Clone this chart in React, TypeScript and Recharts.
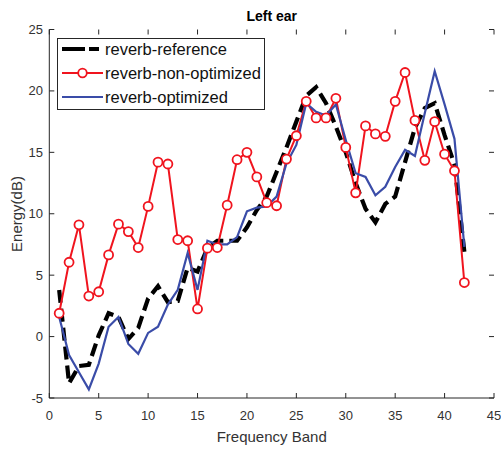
import React from 'react';
import { LineChart, Line, XAxis, YAxis, Legend } from 'recharts';

const bands = [1,2,3,4,5,6,7,8,9,10,11,12,13,14,15,16,17,18,19,20,21,22,23,24,25,26,27,28,29,30,31,32,33,34,35,36,37,38,39,40,41,42];
const reference = [3.8,-3.8,-2.4,-2.3,0.1,1.9,1.6,-0.2,0.7,3.1,4.1,2.8,2.9,5.6,5.3,7.2,7.8,7.8,7.8,8.9,10.3,11.4,13.4,15.4,17.5,19.6,20.3,19.0,17.1,15.0,12.5,10.4,9.3,10.8,11.4,14.2,17.0,18.6,19.0,16.4,14.0,6.9];
const nonOptimized = [1.9,6.05,9.1,3.3,3.65,6.65,9.15,8.55,7.25,10.6,14.2,14.05,7.9,7.8,2.25,7.2,7.25,10.7,14.4,15.0,13.0,10.9,10.65,14.45,16.35,19.15,17.8,17.8,19.4,15.4,11.7,17.15,16.5,16.3,19.15,21.5,17.6,14.35,17.5,14.85,13.5,4.4];
const optimized = [1.6,-1.5,-2.9,-4.3,-2.2,0.8,1.6,-0.6,-1.4,0.3,0.8,2.6,3.8,6.8,3.8,7.8,7.5,7.5,8.1,10.2,10.5,10.6,11.4,14.1,15.6,19.0,18.3,18.0,18.9,16.0,13.3,13.0,11.5,12.2,13.8,15.2,14.7,18.2,21.6,18.9,16.1,7.3];
const xTicks = [0,5,10,15,20,25,30,35,40,45];
const yTicks = [-5,0,5,10,15,20,25];
const seriesNames = ['reverb-reference','reverb-non-optimized','reverb-optimized'];

const data = bands.map((b, i) => ({ x: b, ref: reference[i], non: nonOptimized[i], opt: optimized[i] }));

const W = 501, H = 449;
const PL = 49.3, PR = 494, PT = 29.5, PB = 398;
const AX = '#262626';
const TXT = '#333333';
const FONT = '"Liberation Sans", Arial, Helvetica, sans-serif';
const RED = '#f0141e';
const BLUE = '#3a4ca8';

const XTick = (props: any) => {
  const { x, payload } = props;
  return (
    <g>
      <line x1={x} x2={x} y1={PB} y2={PB - 5} stroke={AX} strokeWidth={1} />
      <line x1={x} x2={x} y1={PT} y2={PT + 5} stroke={AX} strokeWidth={1} />
      <text x={x} y={420} textAnchor="middle" fontSize={13} fontFamily={FONT} fill={TXT}>{payload.value}</text>
    </g>
  );
};

const YTick = (props: any) => {
  const { y, payload } = props;
  return (
    <g>
      <line x1={PL} x2={PL + 5} y1={y} y2={y} stroke={AX} strokeWidth={1} />
      <line x1={PR} x2={PR - 5} y1={y} y2={y} stroke={AX} strokeWidth={1} />
      <text x={43} y={y + 4.5} textAnchor="end" fontSize={13} fontFamily={FONT} fill={TXT}>{payload.value}</text>
    </g>
  );
};

const renderLegend = () => (
  <div style={{ width: 208, height: 72, border: `1px solid ${AX}`, background: '#fff', boxSizing: 'border-box' }}>
    <svg width={208} height={72} style={{ position: 'absolute', left: 0, top: 0 }}>
      <line x1={5} x2={46} y1={11} y2={11} stroke="#000" strokeWidth={4} strokeDasharray="23 4 10 4" />
      <line x1={5} x2={46} y1={35} y2={35} stroke={RED} strokeWidth={2} />
      <circle cx={25.5} cy={35} r={4.3} stroke={RED} strokeWidth={1.8} fill="#fff" />
      <line x1={5} x2={46} y1={59} y2={59} stroke={BLUE} strokeWidth={2.2} />
      {seriesNames.map((n, i) => (
        <text key={n} x={48} y={[11, 35, 59][i] + 5.5} fontSize={16.5} fontFamily={FONT} fill="#111">{n}</text>
      ))}
    </svg>
  </div>
);

export default function App() {
  return (
    <div style={{ position: 'absolute', left: 0, top: 0, width: W, height: H, background: '#fff' }}>
      <LineChart width={W} height={H} data={data} margin={{ top: PT, right: W - PR, bottom: 21, left: PL - 40 }}>
        <XAxis xAxisId="b" dataKey="x" type="number" domain={[0, 45]} ticks={xTicks} interval={0}
          axisLine={{ stroke: AX, strokeWidth: 1 }} tickLine={false} tick={<XTick />} height={30} />
        <XAxis xAxisId="t" dataKey="x" type="number" domain={[0, 45]} orientation="top" height={0}
          axisLine={{ stroke: AX, strokeWidth: 1 }} tickLine={false} tick={false} />
        <YAxis yAxisId="l" type="number" domain={[-5, 25]} ticks={yTicks} interval={0}
          axisLine={{ stroke: AX, strokeWidth: 1 }} tickLine={false} tick={<YTick />} width={40} />
        <YAxis yAxisId="r" type="number" domain={[-5, 25]} orientation="right" width={0}
          axisLine={{ stroke: AX, strokeWidth: 1 }} tickLine={false} tick={false} />
        <Legend layout="vertical" align="center" verticalAlign="middle" content={renderLegend}
          wrapperStyle={{ position: 'absolute', left: 57, top: 38, width: 208, height: 72 }} />
        <Line xAxisId="b" yAxisId="l" dataKey="ref" name={seriesNames[0]} stroke="#000" strokeWidth={4.2}
          strokeDasharray="13 6" dot={false} isAnimationActive={false} type="linear" />
        <Line xAxisId="b" yAxisId="l" dataKey="non" name={seriesNames[1]} stroke={RED} strokeWidth={2}
          dot={{ r: 4.5, stroke: RED, strokeWidth: 1.8, fill: '#fff' }} isAnimationActive={false} type="linear" />
        <Line xAxisId="b" yAxisId="l" dataKey="opt" name={seriesNames[2]} stroke={BLUE} strokeWidth={2.2}
          dot={false} isAnimationActive={false} type="linear" />
      </LineChart>
      <svg width={W} height={H} style={{ position: 'absolute', left: 0, top: 0, pointerEvents: 'none' }}>
        <text x={271.7} y={21} textAnchor="middle" fontSize={14} fontWeight="bold" fontFamily={FONT} fill="#000">Left ear</text>
        <text x={271.7} y={442} textAnchor="middle" fontSize={15} fontFamily={FONT} fill={TXT}>Frequency Band</text>
        <text x={22} y={214} textAnchor="middle" fontSize={15} fontFamily={FONT} fill={TXT} transform="rotate(-90 22 214)">Energy(dB)</text>
      </svg>
    </div>
  );
}
